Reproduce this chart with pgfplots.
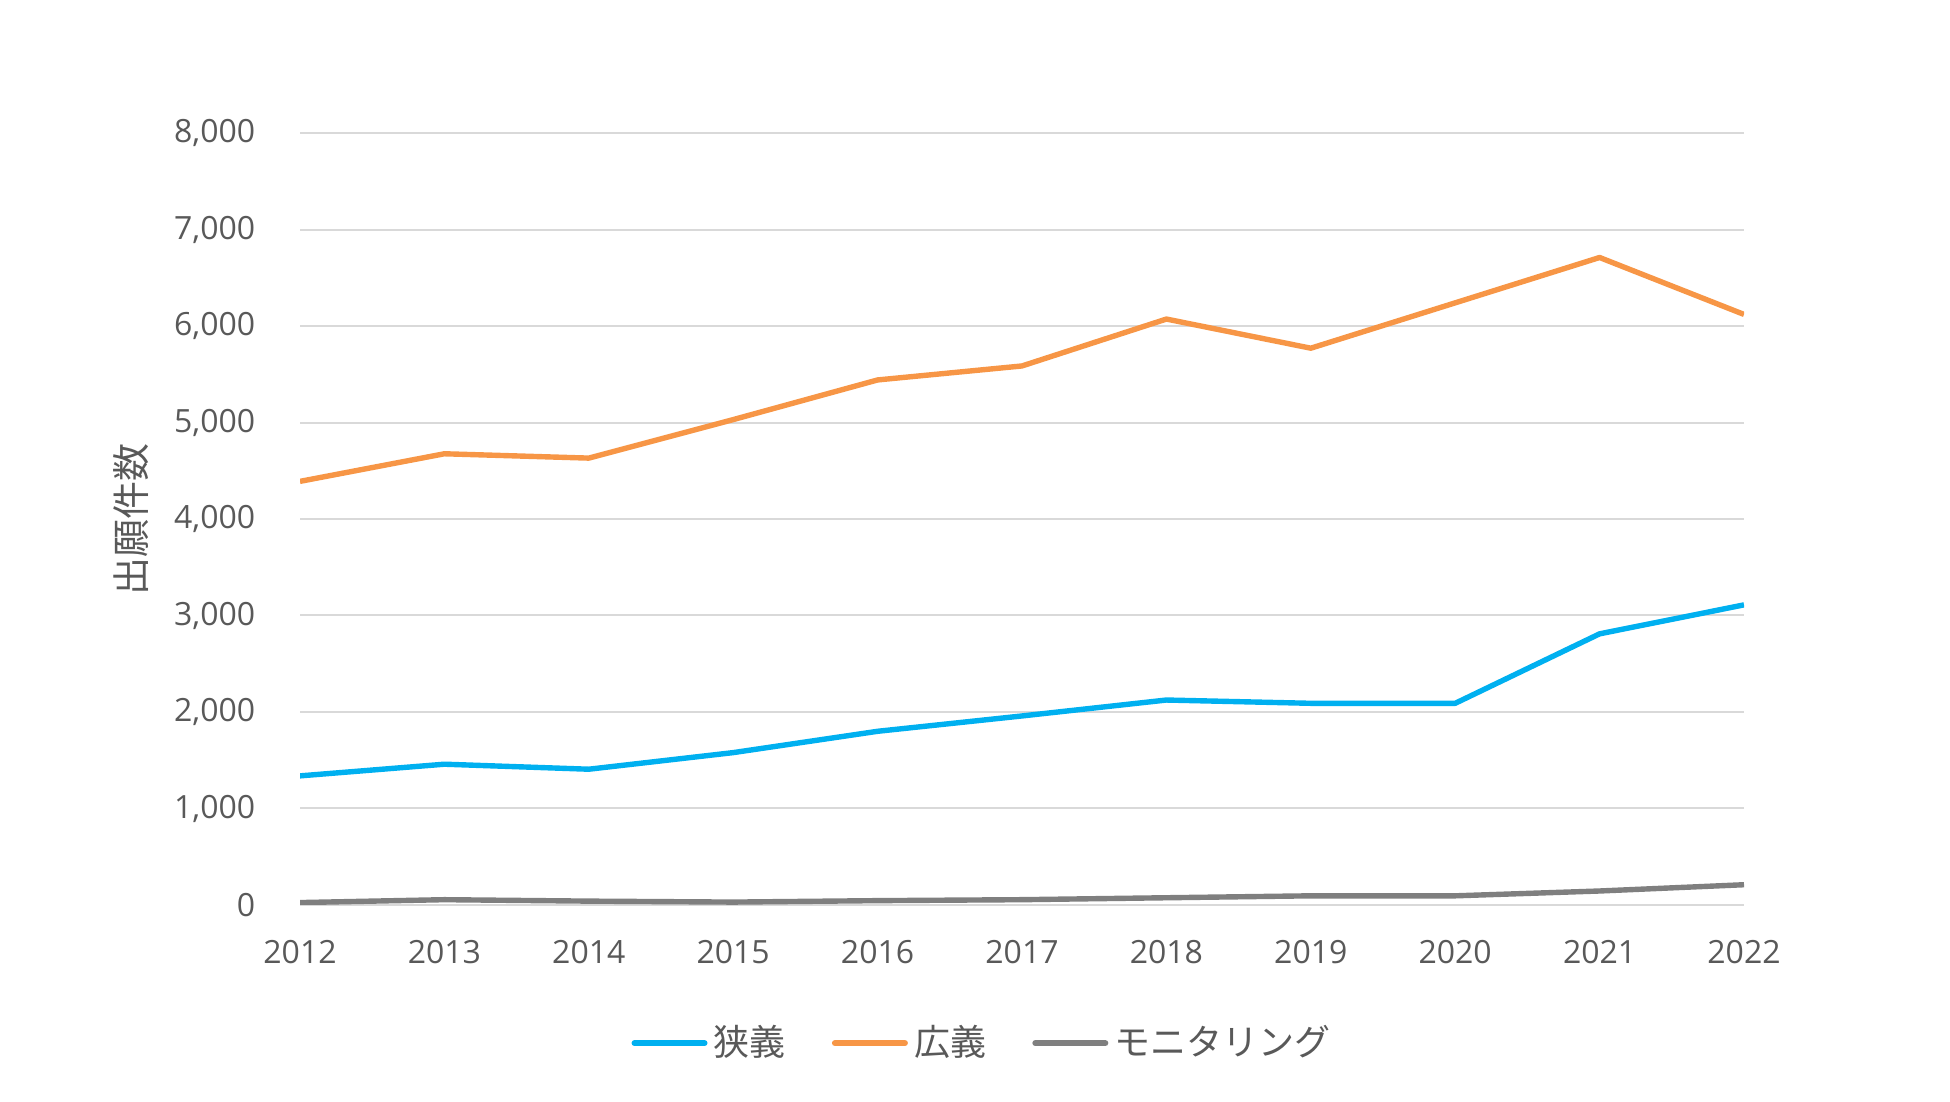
\documentclass[border=0pt]{standalone}
\usepackage{pgfplots}
\pgfplotsset{compat=1.18}
\usepackage{fontspec}
\setmainfont{Open Sans}
\newfontfamily\jp{Noto Sans CJK JP}

\definecolor{narrowblue}{HTML}{00B0F0}
\definecolor{wideorange}{HTML}{F79646}
\definecolor{mongray}{HTML}{7F7F7F}
\definecolor{txtgray}{HTML}{595959}
\definecolor{gridgray}{HTML}{D9D9D9}

\begin{document}
\begin{tikzpicture}[x=1pt,y=1pt]
\path[use as bounding box] (0,0) rectangle (487.5,275.5);
\begin{axis}[
    at={(75pt,49.25pt)}, anchor=south west,
    width=361pt, height=193pt, scale only axis,
    xmin=2012, xmax=2022,
    ymin=0, ymax=8000,
    xtick={2012,2013,...,2022},
    ytick={0,1000,...,8000},
    axis line style={draw=none},
    major tick length=0pt,
    ymajorgrids,
    grid style={gridgray, line width=0.5pt},
    /pgf/number format/assume math mode=true,
    xticklabel style={/pgf/number format/1000 sep={}, anchor=center, inner sep=0pt, yshift=-11.75pt},
    yticklabel style={/pgf/number format/1000 sep={,}, anchor=east, inner sep=0pt, xshift=-11pt},
    tick label style={font=\fontsize{8}{9}\selectfont, text=txtgray},
    every axis y label/.style={at={(rel axis cs:0,0.5)}, xshift=-42.25pt, rotate=90, anchor=center},
    ylabel={\jp 出願件数},
    ylabel style={font=\fontsize{9.5}{11}\selectfont, text=txtgray},
    legend style={at={(0.4717,-0.179)}, anchor=center, draw=none, fill=none,
        font=\fontsize{9}{10}\selectfont, text=txtgray,
        legend columns=-1,
        /tikz/every even column/.append style={column sep=11.5pt},
        nodes={inner sep=0pt, anchor=west}},
    legend image code/.code={\draw[#1, line width=1.5pt, line cap=round] (0.75pt,0pt) -- (18.25pt,0pt);},
    every axis plot/.append style={line width=1.35pt, line join=round},
]
\addplot[narrowblue] coordinates {
    (2012,1338) (2013,1459) (2014,1407) (2015,1579) (2016,1800) (2017,1959)
    (2018,2124) (2019,2090) (2020,2090) (2021,2810) (2022,3110)
};
\addlegendentry{\hspace{1.6pt}\jp 狭義}
\addplot[wideorange] coordinates {
    (2012,4390) (2013,4676) (2014,4631) (2015,5030) (2016,5441) (2017,5586)
    (2018,6072) (2019,5770) (2020,6240) (2021,6710) (2022,6120)
};
\addlegendentry{\hspace{1.6pt}\jp 広義}
\addplot[mongray] coordinates {
    (2012,25) (2013,55) (2014,40) (2015,30) (2016,45) (2017,55)
    (2018,75) (2019,95) (2020,95) (2021,145) (2022,210)
};
\addlegendentry{\hspace{1.6pt}\jp モニタリング}
\end{axis}
\end{tikzpicture}
\end{document}
